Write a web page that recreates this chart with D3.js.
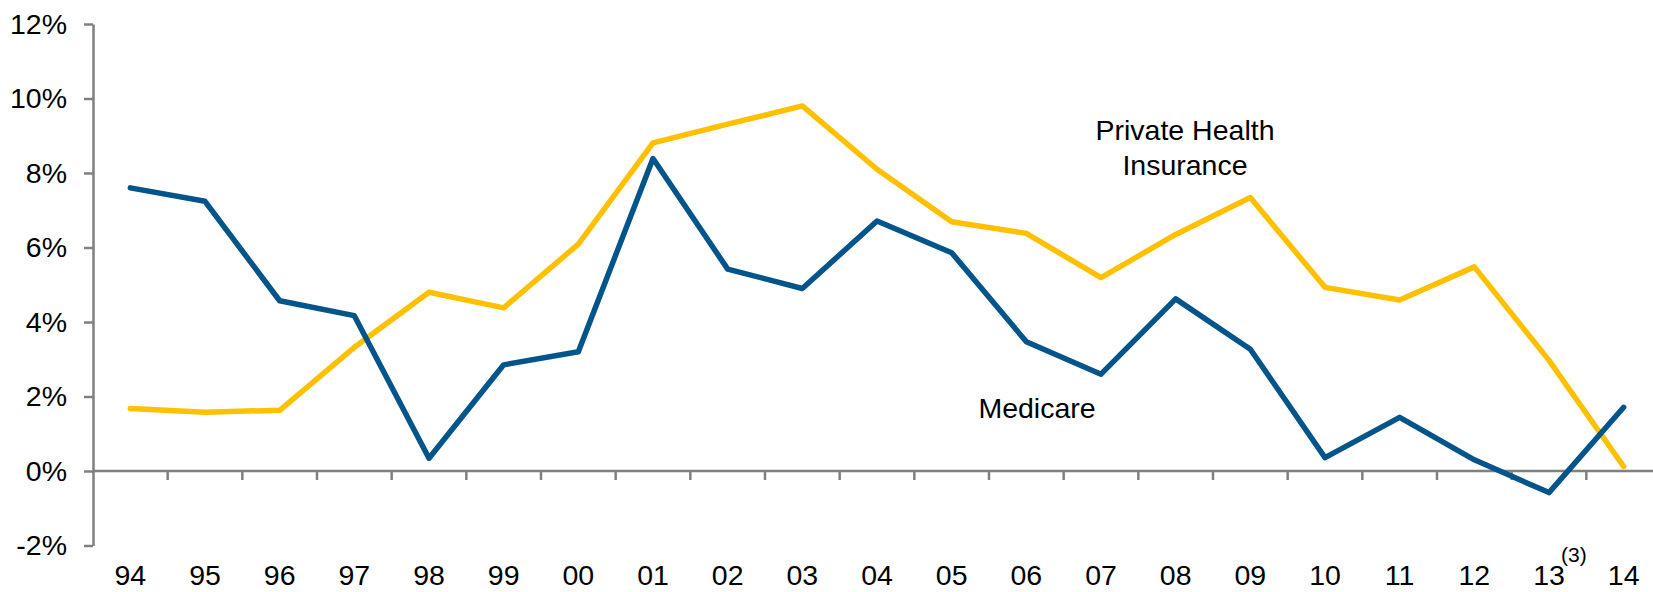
<!DOCTYPE html>
<html>
<head>
<meta charset="utf-8">
<script src="https://cdn.jsdelivr.net/npm/d3@7"></script>
<style>
  html, body { margin: 0; padding: 0; background: #fff; }
  svg { display: block; }
  text { font-family: Arial, "Liberation Sans", sans-serif; fill: #000; }
</style>
</head>
<body>
<svg id="chart" width="1653" height="592"></svg>
<script>
const years = ["94","95","96","97","98","99","00","01","02","03","04","05","06","07","08","09","10","11","12","13","14"];
const medicare = [7.60,7.24,4.57,4.17,0.34,2.85,3.20,8.39,5.42,4.90,6.71,5.86,3.47,2.60,4.62,3.27,0.36,1.44,0.30,-0.58,1.71];
const privateIns = [1.68,1.58,1.63,3.32,4.80,4.38,6.09,8.81,9.31,9.80,8.10,6.69,6.38,5.19,6.35,7.34,4.93,4.59,5.48,2.97,0.12];
const yTicks = [-2,0,2,4,6,8,10,12];
const seriesLabels = [["Private Health","Insurance"],["Medicare"]];
const footnote = "(3)";

const svg = d3.select("#chart");
const plotLeft = 93, plotRight = 1661, plotTop = 24, plotBottom = 545.5;
const fs = 28.5;

const x = d3.scaleBand().domain(years).range([plotLeft, plotRight]).padding(0);
const y = d3.scaleLinear().domain([-2, 12]).range([plotBottom, plotTop]);
const cx = d => x(d) + x.bandwidth() / 2;

// Y axis
const yAxis = svg.append("g")
  .attr("transform", `translate(${plotLeft},0)`)
  .call(d3.axisLeft(y).tickValues(yTicks).tickSizeInner(9).tickSizeOuter(0).tickPadding(17).tickFormat(d => d + "%"));
yAxis.select(".domain").attr("stroke", "#808080").attr("stroke-width", 2.5);
yAxis.selectAll(".tick line").attr("stroke", "#808080").attr("stroke-width", 2.5);
yAxis.selectAll(".tick text").style("font-size", fs + "px").style("font-family", "Arial, 'Liberation Sans', sans-serif").attr("fill", "#000");

// X axis (labels)
const xAxis = svg.append("g")
  .attr("transform", `translate(0,${y(0)})`)
  .call(d3.axisBottom(x).tickSize(0).tickPadding(94));
xAxis.select(".domain").remove();
xAxis.selectAll(".tick text").style("font-size", fs + "px").style("font-family", "Arial, 'Liberation Sans', sans-serif").attr("fill", "#000");

// X axis line and boundary ticks
svg.append("line")
  .attr("x1", plotLeft).attr("x2", plotRight)
  .attr("y1", y(0)).attr("y2", y(0))
  .attr("stroke", "#808080").attr("stroke-width", 2.5);
svg.append("g").selectAll("line")
  .data(years.slice(1))
  .join("line")
  .attr("x1", d => x(d)).attr("x2", d => x(d))
  .attr("y1", y(0)).attr("y2", y(0) + 9)
  .attr("stroke", "#808080").attr("stroke-width", 2.5);

// Lines
const line = d3.line().x((d, i) => cx(years[i])).y(d => y(d));
svg.append("path").datum(privateIns)
  .attr("d", line).attr("fill", "none")
  .attr("stroke", "#FFC000").attr("stroke-width", 5.5)
  .attr("stroke-linejoin", "round").attr("stroke-linecap", "round");
svg.append("path").datum(medicare)
  .attr("d", line).attr("fill", "none")
  .attr("stroke", "#02558B").attr("stroke-width", 5.5)
  .attr("stroke-linejoin", "round").attr("stroke-linecap", "round");

// Series labels
const pl = svg.append("text")
  .attr("x", 1185).attr("y", 139.5)
  .attr("text-anchor", "middle")
  .style("font-size", fs + "px");
pl.selectAll("tspan").data(seriesLabels[0]).join("tspan")
  .attr("x", 1185).attr("dy", (d, i) => i === 0 ? 0 : 35)
  .text(d => d);
svg.append("text")
  .attr("x", 1037).attr("y", 418)
  .attr("text-anchor", "middle")
  .style("font-size", fs + "px")
  .text(seriesLabels[1][0]);

// Footnote marker on "13"
svg.append("text")
  .attr("x", cx("13") + 12).attr("y", 562)
  .attr("text-anchor", "start")
  .style("font-size", "21px")
  .text(footnote);
</script>
</body>
</html>
